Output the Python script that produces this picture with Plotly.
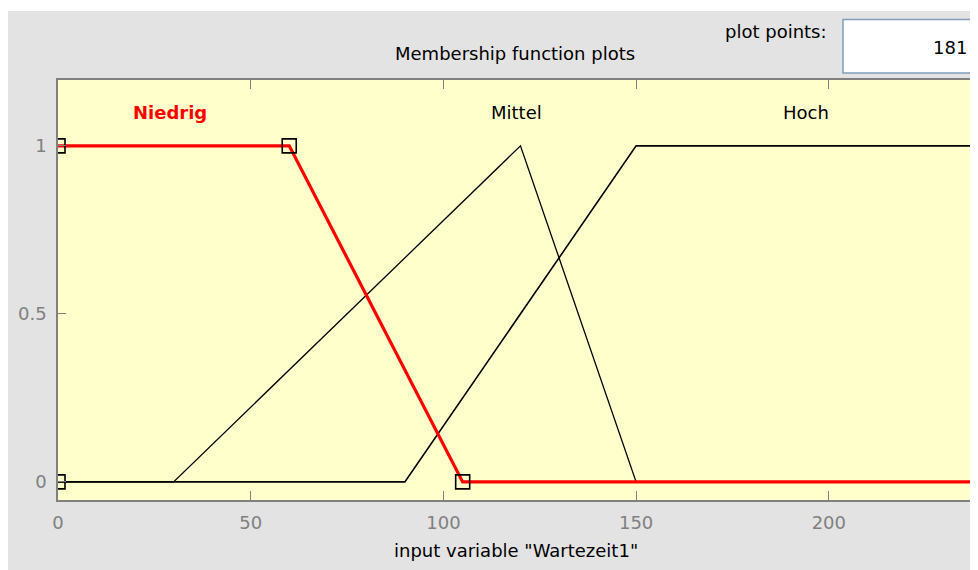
import plotly.graph_objects as go

# ---- data ----
niedrig_x = [0, 60, 105, 245]
niedrig_y = [1, 1, 0, 0]
mittel_x = [0, 30, 120, 150, 245]
mittel_y = [0, 0, 1, 0, 0]
hoch_x = [0, 90, 150, 245]
hoch_y = [0, 0, 1, 1]
param_x = [0, 0, 60, 105]
param_y = [0, 1, 1, 0]
mf_names = ["Niedrig", "Mittel", "Hoch"]
mf_label_x = [29, 119, 194]
mf_label_y = 1.10
x_ticks = [0, 50, 100, 150, 200]
y_ticks = [0, 0.5, 1]
y_tick_text = ["0", "0.5", "1"]
plot_points = "181"

OFF = 8  # page body margin
W, H = 978, 570 - OFF
L, R, T, B = 50, 0, 72, 70
PW, PH = W - L - R, H - T - B


def px(x):
    # screen x (window pixels) -> paper coordinate
    return (x - OFF - L) / PW


def py(y):
    # screen y (window pixels) -> paper coordinate
    return (H - B - (y - OFF)) / PH


FONT = "DejaVu Sans"
GRAY = "#808080"
PANEL = "#e3e3e3"

fig = go.Figure()
fig.add_trace(go.Scatter(x=mittel_x, y=mittel_y, mode="lines",
                         line=dict(color="black", width=1.3), hoverinfo="skip"))
fig.add_trace(go.Scatter(x=hoch_x, y=hoch_y, mode="lines",
                         line=dict(color="black", width=1.6), hoverinfo="skip"))
fig.add_trace(go.Scatter(x=niedrig_x, y=niedrig_y, mode="lines",
                         line=dict(color="#ff0000", width=3.2), hoverinfo="skip"))
fig.add_trace(go.Scatter(x=param_x, y=param_y, mode="markers",
                         marker=dict(symbol="square-open", size=14,
                                     color="black", line=dict(width=1.6, color="black")),
                         hoverinfo="skip"))

annotations = []
for i, name in enumerate(mf_names):
    red = i == 0
    annotations.append(dict(
        x=mf_label_x[i], y=mf_label_y, xref="x", yref="y", text=name,
        showarrow=False, xanchor="center", yanchor="middle",
        font=dict(family=FONT, size=18, color="#ff0000" if red else "black",
                  weight="bold" if red else "normal")))

annotations += [
    dict(x=px(515), y=py(53), xref="paper", yref="paper",
         text="Membership function plots", showarrow=False,
         xanchor="center", yanchor="middle",
         font=dict(family=FONT, size=18, color="black")),
    dict(x=px(829), y=py(32), xref="paper", yref="paper",
         text="plot points:", showarrow=False, xanchor="right", yanchor="middle",
         font=dict(family=FONT, size=18, color="black")),
    dict(x=px(969), y=py(47), xref="paper", yref="paper",
         text=plot_points, showarrow=False, xanchor="right", yanchor="middle",
         font=dict(family=FONT, size=18, color="black")),
    dict(x=px(516), y=py(550), xref="paper", yref="paper",
         text='input variable "Wartezeit1"', showarrow=False,
         xanchor="center", yanchor="middle",
         font=dict(family=FONT, size=18, color="black")),
]

shapes = [
    # thin white strip above the gray panel
    dict(type="rect", xref="paper", yref="paper", x0=px(0), x1=px(1000),
         y0=py(11), y1=py(0), fillcolor="white", line=dict(width=0), layer="above"),
    # plot points edit box
    dict(type="rect", xref="paper", yref="paper", x0=px(843), x1=px(1000),
         y0=py(73), y1=py(19.5), fillcolor="white",
         line=dict(width=1.5, color="#7f9db9"), layer="below"),
]

fig.update_layout(
    width=W, height=H,
    margin=dict(l=L, r=R, t=T, b=B, pad=0),
    paper_bgcolor=PANEL,
    plot_bgcolor="#ffffcc",
    showlegend=False,
    font=dict(family=FONT, size=18, color=GRAY),
    annotations=annotations,
    shapes=shapes,
    xaxis=dict(range=[0, PW / 3.854], tickvals=x_ticks, ticks="inside", ticklen=9,
               tickcolor=GRAY, showline=True, linecolor=GRAY, linewidth=1.5,
               mirror="ticks", showgrid=False, zeroline=False,
               tickfont=dict(family=FONT, size=18, color=GRAY),
               ticklabelstandoff=6, fixedrange=True),
    yaxis=dict(range=[-0.054, 1.196], tickvals=y_ticks, ticktext=y_tick_text,
               ticks="inside", ticklen=8, tickcolor=GRAY, showline=True,
               linecolor=GRAY, linewidth=1.5, mirror=False, showgrid=False,
               zeroline=False, tickfont=dict(family=FONT, size=18, color=GRAY),
               ticklabelstandoff=6, fixedrange=True),
)

fig.write_html("out.html")
